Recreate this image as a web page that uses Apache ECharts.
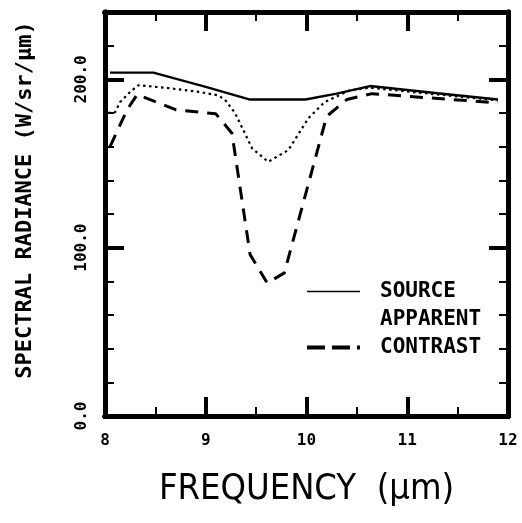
<!DOCTYPE html>
<html lang="en">
<head>
<meta charset="UTF-8">
<title>Spectral radiance</title>
<script src="https://cdn.jsdelivr.net/npm/echarts@6/dist/echarts.min.js"></script>
<style>
    html, body { margin: 0; padding: 0; background: #fff; }
    #wrap { position: relative; width: 522px; height: 523px; }
    #chart, #frame { position: absolute; left: 0; top: 0; width: 522px; height: 523px; }
    #frame { pointer-events: none; }
</style>
</head>
<body>
<div id="wrap">
    <div id="chart"></div>
    <div id="frame"></div>
</div>
<script>
// values
var sourceX = [8.05, 8.48, 9.0, 9.44, 9.99, 10.3, 10.63, 11.3, 11.9];
var sourceY = [204, 204, 195.5, 188, 188, 191.5, 196, 191.7, 188];

var apparentX = [8.03, 8.1, 8.15, 8.25, 8.33, 8.6, 8.94, 9.12, 9.19, 9.29, 9.38, 9.46, 9.62, 9.82, 10.02, 10.18, 10.43, 10.63, 11.3, 11.9];
var apparentY = [180, 180.5, 186.5, 192.5, 196.5, 195, 192.5, 190.5, 188, 180, 169, 159, 151, 158, 177, 186.5, 193.5, 195, 191, 187.5];

var contrastX = [8.05, 8.22, 8.32, 8.7, 9.1, 9.26, 9.44, 9.61, 9.78, 10.2, 10.4, 10.65, 11.9];
var contrastY = [160, 182, 191, 182, 179.5, 168, 96, 79, 85, 178, 188, 191.5, 186];

var xTicks = [8, 9, 10, 11, 12];
var yTicks = [0, 100, 200];

function pairs(xs, ys) {
    var out = [];
    for (var i = 0; i < xs.length; i++) out.push([xs[i], ys[i]]);
    return out;
}

var mono = "'DejaVu Sans Mono', monospace";
var gridBox = { left: 105, right: 14, top: 12, bottom: 107 };
var ink = '#020202';

// x axes: long ticks every 1, short ticks every 0.5, on bottom and top
function xAx(pos, interval, tickLen, tickW, labels) {
    var ax = {
        type: 'value', position: pos, min: 8, max: 12, interval: interval,
        axisLine: { show: true, onZero: false, lineStyle: { color: '#000', width: 5 } },
        axisTick: { show: true, inside: true, length: tickLen, lineStyle: { color: ink, width: tickW } },
        splitLine: { show: false },
        axisLabel: { show: false }
    };
    if (labels) {
        ax.axisLabel = {
            show: true, color: '#000', fontFamily: mono, fontWeight: 'bold', fontSize: 16, margin: 17,
            formatter: function (v) { return xTicks.indexOf(v) >= 0 ? String(v) : ''; }
        };
        ax.name = 'FREQUENCY  (\u03bcm)';
        ax.nameLocation = 'middle';
        ax.nameGap = 56;
        ax.nameTextStyle = {
            color: '#000', fontSize: 36,
            fontFamily: "'DejaVu Sans Condensed', 'Liberation Sans Narrow', sans-serif"
        };
    }
    return ax;
}

function yAx(pos, interval, tickLen, tickW, labels) {
    var ax = {
        type: 'value', position: pos, min: 0, max: 240, interval: interval,
        axisLine: { show: true, onZero: false, lineStyle: { color: '#000', width: 5 } },
        axisTick: { show: true, inside: true, length: tickLen, lineStyle: { color: '#000', width: tickW } },
        splitLine: { show: false },
        axisLabel: { show: false }
    };
    if (labels) {
        ax.axisLabel = {
            show: true, rotate: 90, color: '#000', fontFamily: mono, fontWeight: 'bold', fontSize: 16, margin: 15,
            formatter: function (v) { return yTicks.indexOf(v) >= 0 ? v.toFixed(1) : ''; }
        };
        ax.name = 'SPECTRAL RADIANCE (W/sr/\u03bcm)';
        ax.nameLocation = 'middle';
        ax.nameGap = 69;
        ax.nameRotate = 90;
        ax.nameTextStyle = {
            color: '#000', fontSize: 22, fontWeight: 'bold', fontFamily: mono,
            padding: [0, 0, 0, 28]
        };
    }
    return ax;
}

var chart = echarts.init(document.getElementById('chart'));
chart.setOption({
    animation: false,
    grid: gridBox,
    legend: {
        orient: 'vertical', left: 305, top: 281, padding: 0,
        itemWidth: 53, itemHeight: 14, itemGap: 7, selectedMode: false,
        itemStyle: { color: 'transparent', borderWidth: 0 },
        textStyle: {
            color: '#000', fontFamily: mono, fontWeight: 'bold', fontSize: 21, lineHeight: 21,
            padding: [0, 0, 0, 15]
        },
        data: [
            { name: 'SOURCE', lineStyle: { width: 1.5 } },
            { name: 'APPARENT', lineStyle: { color: 'transparent' } },
            { name: 'CONTRAST', lineStyle: { type: [18, 7], width: 4 } }
        ]
    },
    xAxis: [
        xAx('bottom', 1, 19, 4, true),
        xAx('bottom', 0.5, 9, 2, false),
        xAx('top', 1, 19, 4, false),
        xAx('top', 0.5, 9, 2, false)
    ],
    yAxis: [
        yAx('left', 100, 19, 4, true),
        yAx('left', 20, 9, 2, false),
        yAx('right', 100, 19, 4, false),
        yAx('right', 20, 9, 2, false)
    ],
    series: [
        {
            name: 'SOURCE', type: 'line', symbol: 'none',
            itemStyle: { color: '#000' },
            lineStyle: { color: '#000', width: 2.4 },
            data: pairs(sourceX, sourceY)
        },
        {
            name: 'APPARENT', type: 'line', symbol: 'none',
            itemStyle: { color: '#000' },
            lineStyle: { color: '#000', width: 2.2, type: [2.5, 3.5] },
            data: pairs(apparentX, apparentY)
        },
        {
            name: 'CONTRAST', type: 'line', symbol: 'none',
            itemStyle: { color: '#000' },
            lineStyle: { color: '#000', width: 3, type: [13, 9] },
            data: pairs(contrastX, contrastY)
        }
    ]
});

// plain overlay with just the frame's x ticks (they did not show in the main instance)
var frame = echarts.init(document.getElementById('frame'));
frame.setOption({
    animation: false,
    grid: gridBox,
    xAxis: [
        xAx('bottom', 1, 19, 4, false),
        xAx('bottom', 0.5, 9, 2, false),
        xAx('top', 1, 19, 4, false),
        xAx('top', 0.5, 9, 2, false)
    ],
    yAxis: [{ type: 'value', min: 0, max: 240, show: false }],
    series: []
});
</script>
</body>
</html>
